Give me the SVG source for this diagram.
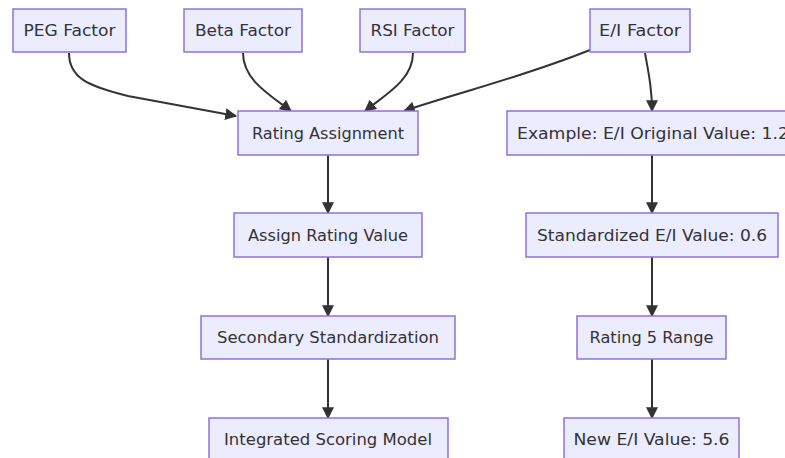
<svg xmlns="http://www.w3.org/2000/svg" width="785" height="458" viewBox="0 0 785 458">
  <style>
    .node rect { fill: #ECECFF; stroke: #9370DB; stroke-width: 1.5; }
    .node text { font-family: "DejaVu Sans", Verdana, sans-serif; font-size: 16px; fill: #333333; text-anchor: middle; dominant-baseline: central; }
    .edge { fill: none; stroke: #333333; stroke-width: 2; marker-end: url(#arrow); }
  </style>
  <defs>
    <marker id="arrow" viewBox="0 0 10 10" refX="9" refY="5" markerWidth="6" markerHeight="6" orient="auto" markerUnits="strokeWidth">
      <path d="M0,0 L10,5 L0,10 z" fill="#333333"/>
    </marker>
  </defs>
  <rect width="785" height="458" fill="#ffffff"/>

  <!-- connectors -->
  <g id="edges">
    <path class="edge" d="M69,53 C69,78 88,86 128,96 L236,116"/>
    <path class="edge" d="M243,53 C243,80 270,95 291,111"/>
    <path class="edge" d="M413,53 C413,80 385,95 365,111"/>
    <path class="edge" d="M590,50 C520,78 460,92 404,111"/>
    <path class="edge" d="M645,53 C649,75 652,90 652,111"/>
    <path class="edge" d="M328,155 L328,213"/>
    <path class="edge" d="M328,257 L328,316"/>
    <path class="edge" d="M328,359 L328,418"/>
    <path class="edge" d="M652,155 L652,213"/>
    <path class="edge" d="M652,257 L652,316"/>
    <path class="edge" d="M652,359 L652,418"/>
  </g>

  <!-- nodes -->
  <g id="peg" class="node">
    <rect x="13" y="9" width="113" height="43"/>
    <text x="69.5" y="30.5" textLength="92" lengthAdjust="spacingAndGlyphs">PEG Factor</text>
  </g>
  <g id="beta" class="node">
    <rect x="184" y="9" width="118" height="43"/>
    <text x="243" y="30.5" textLength="96" lengthAdjust="spacingAndGlyphs">Beta Factor</text>
  </g>
  <g id="rsi" class="node">
    <rect x="360" y="9" width="105" height="43"/>
    <text x="412.5" y="30.5" textLength="84" lengthAdjust="spacingAndGlyphs">RSI Factor</text>
  </g>
  <g id="ei" class="node">
    <rect x="590" y="9" width="100" height="43"/>
    <text x="640" y="30.5" textLength="82" lengthAdjust="spacingAndGlyphs">E/I Factor</text>
  </g>
  <g id="rating" class="node">
    <rect x="238" y="111" width="180" height="44"/>
    <text x="328" y="133" textLength="152" lengthAdjust="spacingAndGlyphs">Rating Assignment</text>
  </g>
  <g id="example" class="node">
    <rect x="507" y="111" width="290" height="44"/>
    <text x="517" y="133" style="text-anchor:start" textLength="272" lengthAdjust="spacingAndGlyphs">Example: E/I Original Value: 1.2</text>
  </g>
  <g id="assign" class="node">
    <rect x="234" y="213" width="188" height="44"/>
    <text x="328" y="235" textLength="160" lengthAdjust="spacingAndGlyphs">Assign Rating Value</text>
  </g>
  <g id="standardized" class="node">
    <rect x="526" y="213" width="252" height="44"/>
    <text x="652" y="235" textLength="230" lengthAdjust="spacingAndGlyphs">Standardized E/I Value: 0.6</text>
  </g>
  <g id="secondary" class="node">
    <rect x="201" y="316" width="254" height="43"/>
    <text x="328" y="337.5" textLength="222" lengthAdjust="spacingAndGlyphs">Secondary Standardization</text>
  </g>
  <g id="range" class="node">
    <rect x="577" y="316" width="149" height="43"/>
    <text x="651.5" y="337.5" textLength="124" lengthAdjust="spacingAndGlyphs">Rating 5 Range</text>
  </g>
  <g id="integrated" class="node">
    <rect x="209" y="418" width="239" height="44"/>
    <text x="328" y="439" textLength="208" lengthAdjust="spacingAndGlyphs">Integrated Scoring Model</text>
  </g>
  <g id="newvalue" class="node">
    <rect x="564" y="418" width="175" height="44"/>
    <text x="651.5" y="439" textLength="156" lengthAdjust="spacingAndGlyphs">New E/I Value: 5.6</text>
  </g>
</svg>
